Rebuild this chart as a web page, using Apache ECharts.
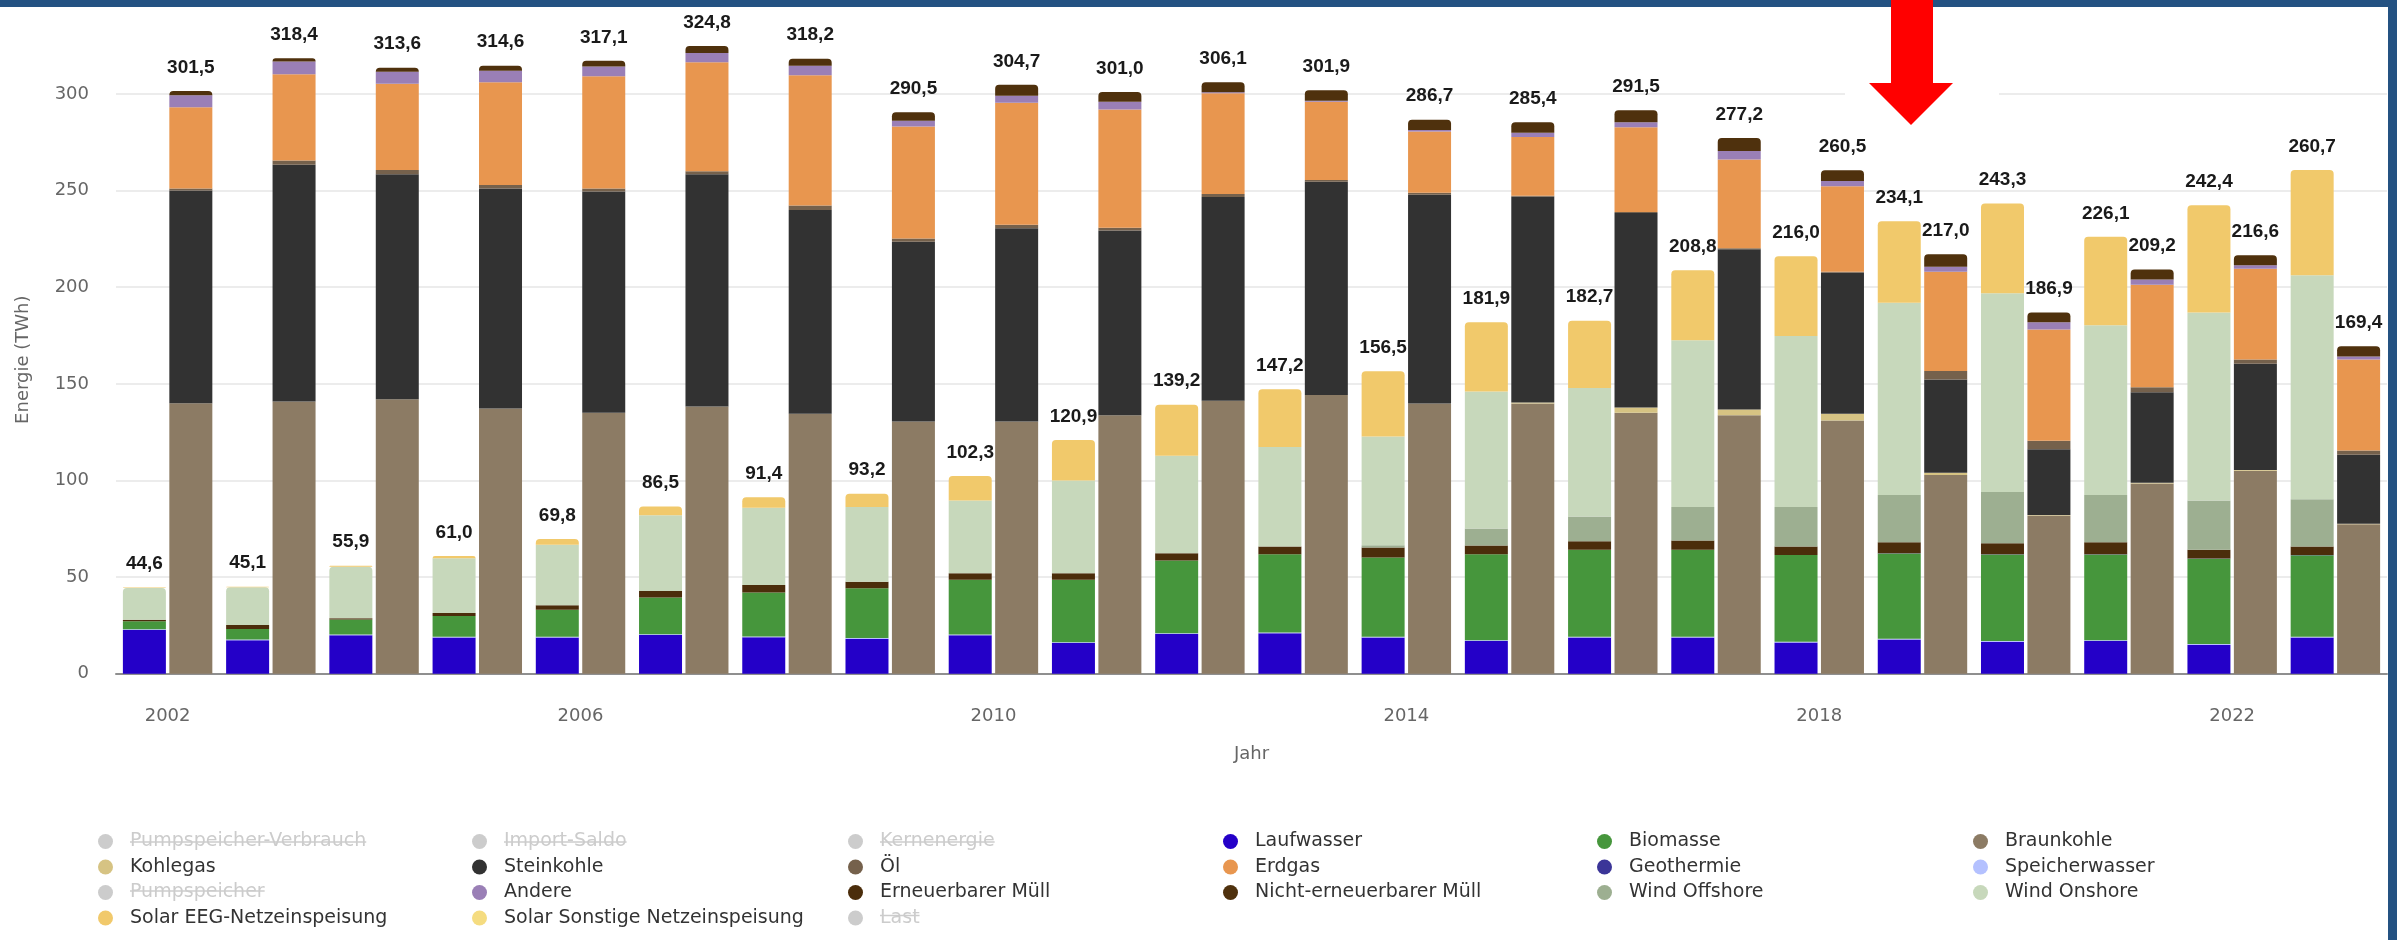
<!DOCTYPE html>
<html>
<head>
<meta charset="utf-8">
<script src="https://cdn.jsdelivr.net/npm/echarts@6/dist/echarts.min.js"></script>
<style>
html,body{margin:0;padding:0;background:#fff;}
#chart{width:2397px;height:940px;}
</style>
</head>
<body>
<div id="chart"></div>
<script>
// ---------- data ----------
const years = ['2002','2003','2004','2005','2006','2007','2008','2009','2010','2011','2012','2013','2014','2015','2016','2017','2018','2019','2020','2021','2022','2023'];

// renewable stack (left bar of each year), bottom -> top
const laufwasser      = [22.6,17.3,19.9,18.8,18.8,20.1,18.9,18.1,19.9,15.9,20.6,21.0,18.8,17.0,18.8,18.8,16.2,17.7,16.6,17.0,15.0,18.8];
const speicherwasser  = [0.4,0.4,0.4,0.4,0.4,0.4,0.4,0.4,0.4,0.4,0.4,0.4,0.4,0.4,0.4,0.4,0.4,0.4,0.4,0.4,0.4,0.4];
const biomasse        = [4.2,5.5,7.8,10.7,14.0,19.0,22.8,25.7,28.4,32.4,37.6,40.5,41.0,44.5,45.0,45.0,44.9,44.1,44.7,44.3,44.1,42.1];
const geothermie      = [0,0,0,0,0,0,0,0,0,0,0,0,0,0,0,0,0,0.2,0.2,0.2,0.2,0.2];
const erneuerbarMuell = [0.7,2.0,0.7,1.5,2.2,3.3,3.8,3.4,3.3,3.3,3.8,4.0,5.1,4.5,4.4,4.8,4.4,5.7,5.6,6.2,4.5,4.4];
const windOffshore    = [0,0,0,0,0,0,0,0,0,0,0,0,1.2,8.8,12.8,17.3,20.4,24.4,26.5,24.4,25.4,24.4];
const windOnshore     = [16.5,19.6,26.6,28.4,31.4,39.2,40.0,38.7,37.6,48.0,50.4,51.4,56.3,70.8,66.4,86.3,88.5,99.5,102.9,87.8,97.3,115.9];
const solarEEG        = [0.2,0.3,0.5,1.2,3.0,4.5,5.5,6.9,12.7,20.9,26.4,29.9,33.7,35.9,34.9,36.2,41.2,42.1,46.4,45.8,55.5,54.5];
const solarSonstige   = [0,0,0,0,0,0,0,0,0,0,0,0,0,0,0,0,0,0,0,0,0,0];

// conventional stack (right bar of each year), bottom -> top
const braunkohle      = [140.0,140.9,142.0,137.2,135.0,138.3,134.5,130.5,130.5,133.8,141.2,144.2,139.8,139.8,135.0,133.8,131.0,102.9,81.9,98.5,105.1,77.4];
const kohlegas        = [0,0,0,0,0,0,0,0,0,0,0,0,0,0.6,2.8,2.9,3.5,1.1,0.3,0.3,0.3,0.2];
const steinkohle      = [110.1,122.4,116.4,113.9,114.5,120.1,105.5,93.0,100.0,95.5,105.5,110.3,108.1,106.4,100.6,82.9,73.0,48.2,34.0,46.8,55.0,35.7];
const oel             = [1.0,2.2,2.2,1.8,1.6,1.6,2.3,1.7,1.8,1.5,1.5,1.0,1.0,0.5,0.5,0.5,0.5,4.4,4.4,2.6,2.2,2.2];
const erdgas          = [42.0,44.7,44.7,53.1,58.0,56.4,67.4,58.0,63.1,61.2,52.2,40.5,31.6,30.4,43.8,46.0,44.2,51.4,57.5,53.1,46.9,47.1];
const andere          = [6.2,6.6,6.2,6.0,5.1,4.8,4.9,2.9,3.7,4.0,0.5,0.5,0.8,2.2,2.7,4.4,2.7,2.6,3.8,2.7,1.8,1.6];
const nichtErnMuell   = [2.2,1.6,2.1,2.6,2.9,3.6,3.6,4.4,5.6,5.0,5.2,5.4,5.4,5.5,6.1,6.7,5.6,6.4,5.0,5.2,5.3,5.2];

const yTicks = [0,50,100,150,200,250,300];

// ---------- helpers ----------
const renewSeries = [laufwasser,speicherwasser,biomasse,geothermie,erneuerbarMuell,windOffshore,windOnshore,solarEEG,solarSonstige];
const convSeries  = [braunkohle,kohlegas,steinkohle,oel,erdgas,andere,nichtErnMuell];
const sumStack = (arrs) => years.map((_, i) => arrs.reduce((s, a) => s + a[i], 0));
const renewTotals = sumStack(renewSeries);
const convTotals  = sumStack(convSeries);
const fmt = v => v.toFixed(1).replace('.', ',');

const FONT = '"DejaVu Sans", Verdana, sans-serif';
const LABEL_FONT = '"Liberation Sans", Arial, sans-serif';
const TOP_RADIUS = [4, 4, 0, 0];

const totalLabel = (totals) => ({
  show: true, position: 'top', distance: 14,
  fontFamily: LABEL_FONT, fontWeight: 'bold', fontSize: 19, color: '#1a1a1a',
  formatter: p => fmt(totals[p.dataIndex])
});

// rounded top on the uppermost visible segment (wind onshore when solar is negligible)
const windOnshoreData = windOnshore.map((v, i) => solarEEG[i] < 1 ? { value: v, itemStyle: { borderRadius: TOP_RADIUS } } : v);

const BW = 43;
function bar(name, data, stack, color, extra) {
  return Object.assign({
    name, type: 'bar', stack, data, barWidth: BW, barGap: '8%',
    itemStyle: { color }, emphasis: { disabled: true }
  }, extra || {});
}

const series = [
  bar('Laufwasser', laufwasser, 'renew', '#2400c8'),
  bar('Speicherwasser', speicherwasser, 'renew', '#b4c1ff'),
  bar('Biomasse', biomasse, 'renew', '#46963c'),
  bar('Geothermie', geothermie, 'renew', '#3b3598'),
  bar('Erneuerbarer Müll', erneuerbarMuell, 'renew', '#4b2d0b'),
  bar('Wind Offshore', windOffshore, 'renew', '#9daf91'),
  bar('Wind Onshore', windOnshoreData, 'renew', '#c7d8bb'),
  bar('Solar EEG-Netzeinspeisung', solarEEG, 'renew', '#f1c96b', { itemStyle: { color: '#f1c96b', borderRadius: TOP_RADIUS } }),
  bar('Solar Sonstige Netzeinspeisung', solarSonstige, 'renew', '#f5dc80', { label: totalLabel(renewTotals) }),
  bar('Braunkohle', braunkohle, 'conv', '#8c7b64'),
  bar('Kohlegas', kohlegas, 'conv', '#d6c383'),
  bar('Steinkohle', steinkohle, 'conv', '#323232'),
  bar('Öl', oel, 'conv', '#75614c'),
  bar('Erdgas', erdgas, 'conv', '#e8964f'),
  bar('Andere', andere, 'conv', '#9a7fb6'),
  bar('Nicht-erneuerbarer Müll', nichtErnMuell, 'conv', '#4f310d', { itemStyle: { color: '#4f310d', borderRadius: TOP_RADIUS }, label: totalLabel(convTotals) }),
  // hidden (deselected) series
  bar('Pumpspeicher-Verbrauch', [], 'neg', '#cccccc'),
  bar('Import-Saldo', [], 'imp', '#cccccc'),
  bar('Kernenergie', [], 'conv', '#cccccc'),
  bar('Pumpspeicher', [], 'renew', '#cccccc'),
  { name: 'Last', type: 'line', data: [], itemStyle: { color: '#cccccc' } }
];

// legend columns
const legendCols = [
  ['Pumpspeicher-Verbrauch','Kohlegas','Pumpspeicher','Solar EEG-Netzeinspeisung'],
  ['Import-Saldo','Steinkohle','Andere','Solar Sonstige Netzeinspeisung'],
  ['Kernenergie','Öl','Erneuerbarer Müll','Last'],
  ['Laufwasser','Erdgas','Nicht-erneuerbarer Müll'],
  ['Biomasse','Geothermie','Wind Offshore'],
  ['Braunkohle','Speicherwasser','Wind Onshore']
];
const disabled = ['Pumpspeicher-Verbrauch','Import-Saldo','Kernenergie','Pumpspeicher','Last'];
const colLeft = [98, 472, 848, 1223, 1597, 1973];
const ITEM_H = 18, LEG_TOP = 841 - ITEM_H / 2, ROW_PITCH = 24.5, LEG_FS = 19, TEXT_PAD = 12;

const legends = legendCols.map((names, c) => {
  const selected = {};
  names.forEach(n => { if (disabled.includes(n)) selected[n] = false; });
  return {
    orient: 'vertical', left: colLeft[c], top: LEG_TOP, height: 150, padding: 0,
    data: names.map(n => ({ name: n, icon: 'circle' })),
    selected, selectedMode: true,
    itemWidth: 15, itemHeight: 15, itemGap: ROW_PITCH - ITEM_H,
    inactiveColor: '#cccccc',
    textStyle: { fontFamily: FONT, fontSize: LEG_FS, color: '#333333', lineHeight: ITEM_H, padding: [0, 0, 0, TEXT_PAD] }
  };
});

// strikethrough decorations for deselected legend items
const mctx = document.createElement('canvas').getContext('2d');
mctx.font = LEG_FS + 'px "DejaVu Sans"';
const strikes = [];
legendCols.forEach((names, c) => {
  names.forEach((n, r) => {
    if (!disabled.includes(n)) return;
    const x0 = colLeft[c] + 15 + 5 + TEXT_PAD;
    const w = mctx.measureText(n).width;
    const y = LEG_TOP + ITEM_H / 2 + r * ROW_PITCH + 1;
    strikes.push({ type: 'line', z: 50, shape: { x1: x0, y1: y, x2: x0 + w, y2: y }, style: { stroke: '#cccccc', lineWidth: 1.5 } });
  });
});

const chart = echarts.init(document.getElementById('chart'), null, { renderer: 'canvas' });
chart.setOption({
  animation: false,
  backgroundColor: '#ffffff',
  grid: { left: 116, right: 10, top: 45.6, bottom: 266.2, containLabel: false },
  legend: legends,
  xAxis: {
    type: 'category', data: years,
    name: 'Jahr', nameLocation: 'middle', nameGap: 72,
    nameTextStyle: { fontFamily: FONT, fontSize: 18, color: '#666666' },
    axisLine: { show: true, lineStyle: { color: '#8f8f8f', width: 2 } },
    axisTick: { show: false },
    axisLabel: { interval: 3, margin: 34, fontFamily: FONT, fontSize: 18, color: '#666666' },
    splitLine: { show: false }
  },
  yAxis: {
    type: 'value', min: yTicks[0], max: 325, interval: 50,
    name: 'Energie (TWh)', nameLocation: 'middle', nameGap: 84,
    nameTextStyle: { fontFamily: FONT, fontSize: 18, color: '#666666' },
    axisLine: { show: false }, axisTick: { show: false },
    axisLabel: { margin: 27, fontFamily: FONT, fontSize: 18, color: '#666666', showMaxLabel: false,
      formatter: v => (yTicks.includes(v) ? String(v) : '') },
    splitLine: { show: true, showMaxLine: false,
      lineStyle: { color: ['#e6e6e6','#e6e6e6','#e6e6e6','#e6e6e6','#e6e6e6','#e6e6e6','#e6e6e6','rgba(0,0,0,0)'], width: 1.5 } }
  },
  graphic: [
    // screenshot frame
    { type: 'rect', z: 100, shape: { x: 0, y: 0, width: 2397, height: 7 }, style: { fill: '#245282' } },
    { type: 'rect', z: 100, shape: { x: 2388, y: 0, width: 9, height: 940 }, style: { fill: '#245282' } },
    // annotation arrow with its white backing
    { type: 'rect', z: 90, shape: { x: 1845, y: 7, width: 154, height: 100 }, style: { fill: '#ffffff' } },
    { type: 'polygon', z: 101, shape: { points: [[1891,0],[1933,0],[1933,83],[1953,83],[1911,125],[1869,83],[1891,83]] }, style: { fill: '#ff0000' } }
  ].concat(strikes),
  series
});
</script>
</body>
</html>
